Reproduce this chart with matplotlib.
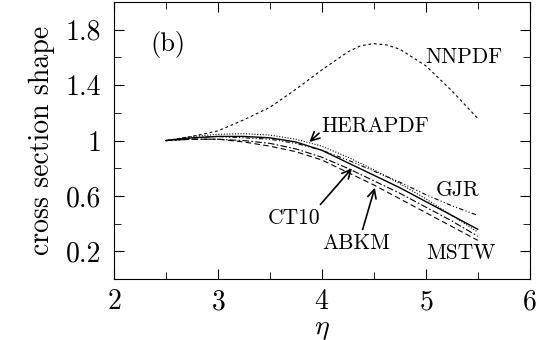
import numpy as np
import matplotlib
matplotlib.use('Agg')
import matplotlib.pyplot as plt

matplotlib.rcParams.update({'font.family': 'serif',
                            'font.serif': ['cmr10', 'DejaVu Serif'],
                            'mathtext.fontset': 'cm',
                            'axes.formatter.use_mathtext': True,
                            'font.size': 20})

eta = [2.5, 2.75, 3.0, 3.25, 3.5, 3.75, 4.0, 4.25, 4.5, 4.75, 5.0, 5.25, 5.5]
ct10 = [1.0, 1.02, 1.03, 1.03, 1.02, 0.99, 0.93, 0.84, 0.75, 0.66, 0.56, 0.46, 0.36]
herapdf = [1.0, 1.03, 1.045, 1.05, 1.04, 1.01, 0.96, 0.88, 0.79, 0.69, 0.58, 0.46, 0.34]
gjr = [1.0, 1.02, 1.03, 1.02, 1.01, 0.98, 0.93, 0.86, 0.78, 0.70, 0.61, 0.53, 0.46]
abkm = [1.0, 1.01, 1.01, 1.0, 0.98, 0.94, 0.88, 0.80, 0.71, 0.62, 0.52, 0.42, 0.31]
mstw = [1.0, 1.01, 1.01, 0.99, 0.96, 0.92, 0.86, 0.77, 0.68, 0.58, 0.48, 0.38, 0.28]

eta_nn = [2.5, 2.75, 3.0, 3.25, 3.5, 3.75, 4.0, 4.25, 4.375, 4.5, 4.625, 4.75, 5.0, 5.25, 5.5]
nnpdf = [1.0, 1.03, 1.07, 1.15, 1.24, 1.37, 1.51, 1.64, 1.685, 1.70, 1.69, 1.66, 1.54, 1.36, 1.16]

fig = plt.figure(figsize=(5.45, 3.4), dpi=100)
ax = fig.add_axes([0.209, 0.179, 0.763, 0.815])

lw = 0.8
ax.plot(eta_nn, nnpdf, color='k', lw=lw, ls=(0, (2.5, 2.5)))
ax.plot(eta, herapdf, color='k', lw=lw, ls=(0, (1, 1.5)))
ax.plot(eta, gjr, color='k', lw=lw, ls=(0, (4, 2, 1, 2, 1, 2)))
ax.plot(eta, ct10, color='k', lw=1.0, ls='-')
ax.plot(eta, abkm, color='k', lw=lw, ls=(0, (6, 2, 1.5, 2)))
ax.plot(eta, mstw, color='k', lw=lw, ls=(0, (5, 3)))

lab = 15.5
ax.text(2.35, 1.69, '(b)', va='center', ha='left', fontsize=19)
ax.text(5.0, 1.60, 'NNPDF', va='center', ha='left', fontsize=lab)
ax.text(5.1, 0.64, 'GJR', va='center', ha='left', fontsize=lab)
ax.text(5.0, 0.19, 'MSTW', va='center', ha='left', fontsize=lab)

arrow = dict(arrowstyle='->', color='k', lw=1.2, shrinkA=0, shrinkB=0)
ax.annotate('HERAPDF', xy=(3.88, 0.99), xytext=(4.0, 1.10), va='center', ha='left',
            fontsize=lab, arrowprops=dict(arrow, relpos=(0.0, 0.3)))
ax.annotate('CT10', xy=(4.29, 0.80), xytext=(3.48, 0.44), va='center', ha='left',
            fontsize=lab, arrowprops=dict(arrow, relpos=(1.0, 1.2)))
ax.annotate('ABKM', xy=(4.51, 0.66), xytext=(4.0, 0.26), va='center', ha='left',
            fontsize=lab, arrowprops=dict(arrow, relpos=(0.6, 1.2)))

ax.set_xlim(2, 6)
ax.set_ylim(0, 2)
ax.set_xticks([2, 3, 4, 5, 6])
ax.set_xticks([2.5, 3.5, 4.5, 5.5], minor=True)
ax.set_yticks([0.2, 0.6, 1.0, 1.4, 1.8])
ax.set_yticklabels(['0.2', '0.6', '1', '1.4', '1.8'])
ax.set_yticks([0.4, 0.8, 1.2, 1.6], minor=True)
ax.tick_params(which='both', direction='in', top=True, right=True)
ax.tick_params(which='major', length=7, pad=7)
ax.tick_params(which='minor', length=5)
ax.tick_params(axis='y', which='major', pad=9)

ax.set_xlabel(r'$\eta$', labelpad=0)
ax.set_ylabel('cross section shape', labelpad=8)

plt.savefig('out.png', dpi=100)
